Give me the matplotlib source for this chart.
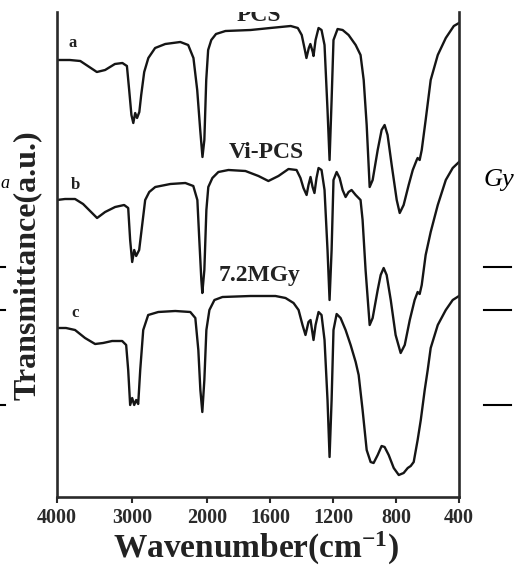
import numpy as np
import matplotlib
matplotlib.use("Agg")
import matplotlib.pyplot as plt
from matplotlib.lines import Line2D
from matplotlib.transforms import Bbox, TransformedBbox

plt.rcParams['font.family'] = ['Liberation Serif', 'DejaVu Serif']
plt.rcParams['mathtext.fontset'] = 'custom'
plt.rcParams['mathtext.rm'] = 'Liberation Serif:bold'
plt.rcParams['mathtext.bf'] = 'Liberation Serif:bold'
plt.rcParams['mathtext.default'] = 'bf'

# ---------------- data ----------------
wn_a = [4000, 3830, 3690, 3590, 3470, 3360, 3230, 3130, 3070, 3040, 3010, 2985, 2960, 2935,
        2905, 2880, 2840, 2785, 2695, 2560, 2360, 2255, 2185, 2135, 2095, 2065, 2040, 2015,
        1995, 1975, 1945, 1885, 1725, 1600, 1470, 1425, 1400, 1380, 1370, 1355, 1345, 1330,
        1325, 1312, 1293, 1274, 1255, 1236, 1223, 1210, 1198, 1172, 1140, 1102, 1057, 1026,
        1006, 987, 968, 949, 917, 892, 873, 854, 828, 796, 777, 752, 720, 694, 669, 663,
        650, 637, 612, 580, 535, 484, 433, 400]
tr_a = [87.4, 87.4, 87.2, 86.2, 85.0, 85.4, 86.6, 86.8, 86.2, 81.4, 76.4, 74.8, 76.8, 75.8,
        77.0, 80.4, 85.0, 87.8, 89.8, 90.6, 91.0, 90.4, 87.8, 81.4, 73.4, 68.0, 71.4, 83.4,
        89.4, 91.4, 92.6, 93.2, 93.4, 93.8, 94.2, 93.8, 92.4, 89.4, 87.8, 89.8, 90.6, 89.0,
        88.2, 91.4, 93.8, 93.4, 90.4, 77.4, 67.4, 79.4, 91.4, 93.6, 93.4, 92.4, 90.4, 88.4,
        83.4, 74.4, 62.0, 63.4, 69.4, 73.4, 74.4, 72.4, 66.4, 59.4, 56.8, 58.4, 62.4, 65.4,
        67.4, 67.8, 67.4, 69.4, 75.4, 83.4, 88.4, 91.8, 94.2, 94.8]

wn_b = [4000, 3893, 3760, 3653, 3560, 3467, 3360, 3227, 3107, 3053, 3027, 3000, 2973, 2947,
        2907, 2867, 2827, 2773, 2693, 2493, 2293, 2187, 2133, 2107, 2080, 2067, 2040, 2013,
        1994, 1968, 1930, 1866, 1758, 1675, 1612, 1548, 1484, 1433, 1408, 1389, 1369, 1357,
        1344, 1331, 1319, 1306, 1293, 1274, 1255, 1236, 1223, 1210, 1198, 1178, 1159, 1140,
        1121, 1102, 1083, 1057, 1026, 1013, 994, 968, 949, 917, 898, 879, 860, 834, 803,
        771, 745, 713, 682, 663, 650, 637, 612, 580, 535, 484, 440, 400]
tr_b = [59.4, 59.6, 59.6, 58.6, 57.2, 55.8, 57.0, 58.0, 58.4, 57.8, 51.4, 47.0, 49.4, 48.2,
        49.4, 54.4, 59.4, 61.0, 62.0, 62.6, 62.8, 62.2, 59.4, 51.4, 43.4, 40.8, 45.4, 57.4,
        62.0, 63.8, 65.0, 65.4, 65.2, 64.2, 63.2, 64.2, 65.6, 65.4, 63.8, 61.8, 60.4, 62.4,
        64.0, 62.0, 60.8, 63.8, 65.8, 65.4, 61.4, 49.4, 39.4, 49.4, 63.4, 65.0, 63.8, 61.4,
        60.0, 61.0, 61.4, 60.4, 59.4, 55.4, 45.4, 34.4, 35.8, 41.4, 44.4, 45.8, 44.4, 39.4,
        32.4, 28.8, 30.4, 35.4, 39.4, 41.0, 40.6, 42.4, 48.4, 53.0, 58.4, 63.4, 65.8, 67.0]

wn_c = [4000, 3880, 3760, 3627, 3493, 3387, 3267, 3133, 3080, 3053, 3027, 3000, 2973, 2947,
        2920, 2893, 2853, 2787, 2653, 2427, 2227, 2160, 2120, 2093, 2067, 2040, 2013, 1987,
        1955, 1904, 1726, 1567, 1503, 1452, 1420, 1395, 1376, 1357, 1344, 1325, 1312, 1293,
        1274, 1255, 1236, 1223, 1210, 1198, 1178, 1153, 1121, 1089, 1057, 1038, 1013, 987,
        962, 943, 917, 892, 873, 847, 815, 783, 752, 726, 707, 688, 663, 643, 618, 599,
        580, 535, 484, 440, 400]
tr_c = [33.8, 33.8, 33.4, 31.8, 30.6, 30.8, 31.2, 31.2, 30.4, 25.4, 18.4, 19.8, 18.4, 19.4,
        18.6, 25.4, 33.4, 36.4, 37.0, 37.2, 37.0, 35.8, 29.4, 21.4, 17.0, 23.4, 33.4, 37.4,
        39.4, 40.0, 40.2, 40.2, 39.8, 38.8, 37.4, 34.4, 32.4, 35.0, 35.4, 31.4, 34.4, 37.0,
        36.4, 31.4, 19.4, 8.0, 19.4, 33.4, 36.6, 35.8, 33.4, 30.4, 27.0, 24.4, 17.4, 9.4,
        7.0, 6.8, 8.4, 10.2, 10.0, 8.4, 5.8, 4.4, 4.8, 5.8, 6.2, 7.0, 11.4, 15.4, 21.4, 25.4,
        29.8, 34.4, 37.4, 39.4, 40.2]

curve_letters = ["a", "b", "c"]
curve_names = ["PCS", "Vi-PCS", "7.2MGy"]
xticks = [4000, 3000, 2000, 1600, 1200, 800, 400]
xtick_labels = ["4000", "3000", "2000", "1600", "1200", "800", "400"]

# ---------------- axis scale: compressed above 2000 cm-1 ----------------
RATIO = 0.478
def fwd(w):
    w = np.asarray(w, dtype=float)
    return np.where(w > 2000, 2000 + (w - 2000) * RATIO, w)
def inv(u):
    u = np.asarray(u, dtype=float)
    return np.where(u > 2000, 2000 + (u - 2000) / RATIO, u)

W, H = 524, 569
fig = plt.figure(figsize=(W / 100, H / 100), dpi=100)
ax = fig.add_axes([57 / W, (H - 497) / H, (459 - 57) / W, (497 - 12) / H])
ax.set_xscale('function', functions=(fwd, inv))
ax.set_xlim(4000, 400)
ax.set_ylim(0, 97)

lc = '#151515'
for wn, tr in [(wn_a, tr_a), (wn_b, tr_b), (wn_c, tr_c)]:
    ax.plot(wn, tr, color=lc, lw=1.7, solid_joinstyle='round')

for s in ['left', 'right', 'bottom']:
    ax.spines[s].set_linewidth(1.9)
    ax.spines[s].set_color('#2a2a2a')
ax.spines['top'].set_visible(False)

ax.set_xticks(xticks)
ax.set_xticklabels(xtick_labels, fontsize=14.5, fontweight='bold')
ax.xaxis.set_minor_locator(matplotlib.ticker.NullLocator())
ax.tick_params(axis='x', direction='out', length=4, width=1.5, pad=4, colors='#2a2a2a')
ax.set_yticks([])

# curve letters
tk = dict(transform=ax.transAxes, fontsize=12, fontweight='bold', ha='center', va='center', color='#222')
ax.text(0.040, 0.936, curve_letters[0], **tk)
ax.text(0.047, 0.643, curve_letters[1], **tk)
ax.text(0.045, 0.379, curve_letters[2], **tk)

# curve names
nk = dict(transform=ax.transAxes, fontsize=17, fontweight='bold', ha='center', va='baseline', color='#222')
t_top = ax.text(0.502, 0.981, curve_names[0], **nk)
t_top.set_clip_box(TransformedBbox(Bbox([[0, 0], [1, 1]]), ax.transAxes))
t_top.set_clip_on(True)
ax.text(0.520, 0.699, curve_names[1], **nk)
ax.text(0.505, 0.445, curve_names[2], **nk)

# axis labels
fig.text(256 / W, (H - 558) / H, r'Wavenumber(cm$^{-1}$)', fontsize=24, fontweight='bold',
         ha='center', va='baseline', color='#222')
fig.text(27 / W, (H - 265) / H, 'Transmittance(a.u.)', fontsize=23, fontweight='bold',
         rotation=90, ha='center', va='center', color='#222')

# page fragments around the figure
fig.text(484 / W, (H - 186) / H, 'Gy', fontsize=19, style='italic', ha='left', va='baseline')
fig.text(0.5 / W, (H - 188) / H, 'a', fontsize=13, style='italic', ha='left', va='baseline')
for py in [267, 310, 405]:
    fig.add_artist(Line2D([0, 5 / W], [(H - py) / H] * 2, color='k', lw=1.5))
    fig.add_artist(Line2D([484 / W, 511 / W], [(H - py) / H] * 2, color='k', lw=1.5))

fig.savefig('out.png', dpi=100)
